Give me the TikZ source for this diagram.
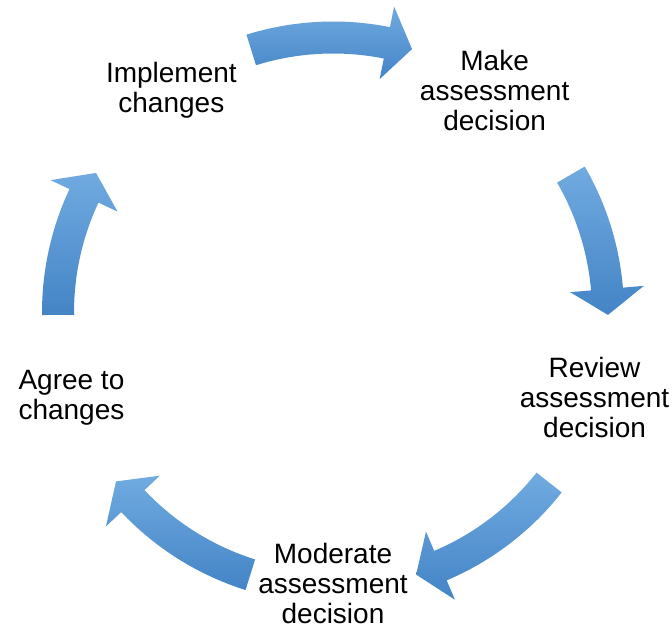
\documentclass[tikz,border=0pt]{standalone}
\usepackage{fontspec}
\setmainfont{Liberation Sans}

\definecolor{cyclelight}{RGB}{112,170,224}
\definecolor{cycledark}{RGB}{68,132,198}

\tikzset{
  stagelabel/.style={align=center,inner sep=0pt,font=\fontsize{28}{30}\selectfont},
  cyclearrow/.style={top color=cyclelight,bottom color=cycledark,draw=none}
}

\begin{document}
\begin{tikzpicture}[x=1pt,y=1pt]
  \useasboundingbox (0,0) rectangle (672,629);
  \begin{scope}[shift={(333,316.5)}]
    % the five stages, on a circle of radius 275
    \node[stagelabel] (make)      at (54:275)  {Make\\assessment\\decision};
    \node[stagelabel] (review)    at (-18:275) {Review\\assessment\\decision};
    \node[stagelabel] (moderate)  at (270:271) {Moderate\\assessment\\decision};
    \node[stagelabel] (agree)     at (198:275) {Agree to\\changes};
    \node[stagelabel] (implement) at (126:275) {Implement\\changes};
    % curved block arrows between the stages (tail angle / tip angle)
    \foreach \tail/\tip in {107.3/73.3, 30.1/-0.5, -38.2/-72.4, 252.5/217.9, 180.5/149.5}{
      \pgfmathsetmacro{\back}{\tip+5.4}
      \shade[cyclearrow] (\tail:291) arc[start angle=\tail,end angle=\back,radius=291]
        -- (\back:312) -- (\tip:275) -- (\back:238) -- (\back:259)
        arc[start angle=\back,end angle=\tail,radius=259] -- cycle;
    }
  \end{scope}
\end{tikzpicture}
\end{document}
